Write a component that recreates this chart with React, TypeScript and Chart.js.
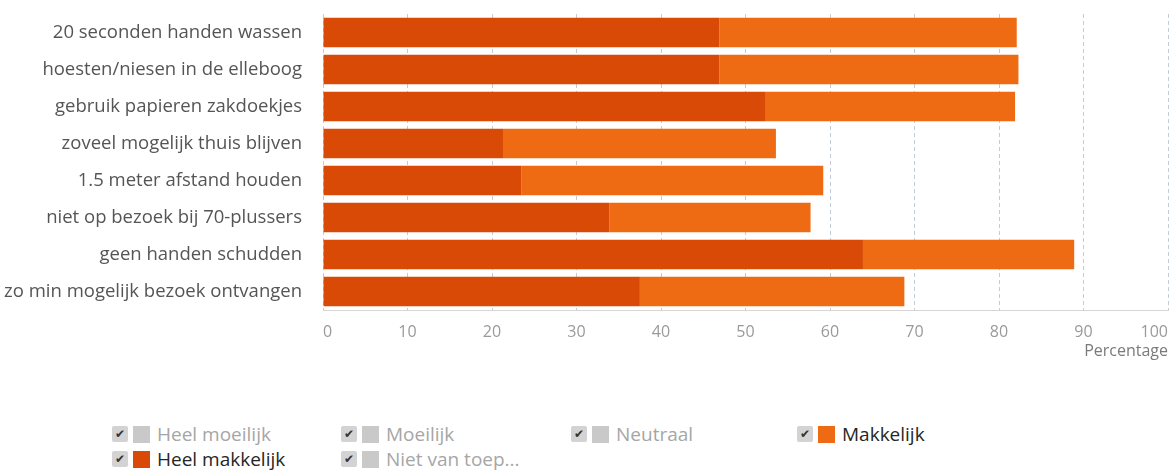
import React, { useEffect, useRef } from "react";
import { Chart, registerables } from "chart.js";

Chart.register(...registerables);

// ---- data ----
const categories = [
  "20 seconden handen wassen",
  "hoesten/niesen in de elleboog",
  "gebruik papieren zakdoekjes",
  "zoveel mogelijk thuis blijven",
  "1.5 meter afstand houden",
  "niet op bezoek bij 70-plussers",
  "geen handen schudden",
  "zo min mogelijk bezoek ontvangen",
];
const heelMakkelijk = [46.9, 46.9, 52.4, 21.3, 23.5, 33.9, 63.9, 37.5];
const makkelijk = [35.2, 35.4, 29.5, 32.3, 35.7, 23.8, 25.0, 31.3];

const xMin = 0;
const xMax = 100;
const xStep = 10;
const xTitle = "Percentage";

const legendNames = [
  "Heel moeilijk",
  "Moeilijk",
  "Neutraal",
  "Makkelijk",
  "Heel makkelijk",
  "Niet van toep...",
];
const legendColors = ["#c9c9c9", "#c9c9c9", "#c9c9c9", "#ee6b13", "#d84a05", "#c9c9c9"];
const legendActive = [false, false, false, true, true, false];

const FONT = "'Open Sans', 'DejaVu Sans', sans-serif";

function Legend() {
  const colX = [112, 341, 571, 797];
  const rowY = [434, 459];
  return (
    <>
      {legendNames.map((name, i) => {
        const col = i % 4;
        const row = Math.floor(i / 4);
        return (
          <div
            key={name}
            style={{
              position: "absolute",
              left: colX[col],
              top: rowY[row] - 12,
              height: 24,
              display: "flex",
              alignItems: "center",
              fontFamily: FONT,
              fontSize: 19,
              color: legendActive[i] ? "#262626" : "#a6a6a6",
              whiteSpace: "nowrap",
            }}
          >
            <span
              style={{
                display: "inline-block",
                width: 16,
                height: 16,
                background: "#d3d3d3",
                borderRadius: 2,
                color: "#333",
                fontSize: 12,
                lineHeight: "16px",
                textAlign: "center",
                fontFamily: "'DejaVu Sans', sans-serif",
              }}
            >
              ✔
            </span>
            <span
              style={{
                display: "inline-block",
                width: 17,
                height: 17,
                marginLeft: 5,
                background: legendColors[i],
              }}
            />
            <span style={{ marginLeft: 7 }}>{name}</span>
          </div>
        );
      })}
    </>
  );
}

export default function App() {
  const ref = useRef<HTMLCanvasElement | null>(null);

  useEffect(() => {
    if (!ref.current) return;
    const chart = new Chart(ref.current, {
      type: "bar",
      data: {
        labels: categories,
        datasets: [
          {
            label: "Heel makkelijk",
            data: heelMakkelijk,
            backgroundColor: "#d84a05",
            borderWidth: 0,
            categoryPercentage: 1,
            barPercentage: 0.8,
          },
          {
            label: "Makkelijk",
            data: makkelijk,
            backgroundColor: "#ee6b13",
            borderWidth: 0,
            categoryPercentage: 1,
            barPercentage: 0.8,
          },
        ],
      },
      options: {
        indexAxis: "y",
        responsive: false,
        animation: false,
        devicePixelRatio: 1,
        layout: { padding: { top: 14, right: 4, bottom: 19, left: 0 } },
        plugins: {
          legend: { display: false },
          tooltip: { enabled: false },
        },
        scales: {
          x: {
            type: "linear",
            stacked: true,
            min: xMin,
            max: xMax,
            ticks: {
              stepSize: xStep,
              align: "inner",
              color: "#9a9a9a",
              font: { family: FONT, size: 16 },
              padding: 13,
              maxRotation: 0,
            },
            grid: { color: "#c1ccd6", drawTicks: false, lineWidth: 1 },
            border: { display: true, color: "#d6d6d6", dash: [4, 3] },
            title: {
              display: true,
              text: xTitle,
              align: "end",
              color: "#7a7a7a",
              font: { family: FONT, size: 16 },
              padding: 0,
            },
            afterFit: (s: any) => {
              s.height = 51;
              s.paddingLeft = 0;
              s.paddingRight = 0;
            },
          },
          y: {
            type: "category",
            stacked: true,
            grid: { display: false },
            border: { display: false },
            ticks: {
              color: "#555",
              font: { family: FONT, size: 18.5 },
              padding: 13,
              autoSkip: false,
            },
            afterFit: (s: any) => {
              s.width = 323;
              s.paddingTop = 0;
              s.paddingBottom = 0;
            },
          },
        },
      },
    } as any);
    return () => chart.destroy();
  }, []);

  return (
    <div style={{ position: "absolute", left: 0, top: 0, width: 1172, height: 472, background: "#fff" }}>
      <canvas ref={ref} width={1172} height={380} style={{ display: "block" }} />
      <Legend />
    </div>
  );
}
